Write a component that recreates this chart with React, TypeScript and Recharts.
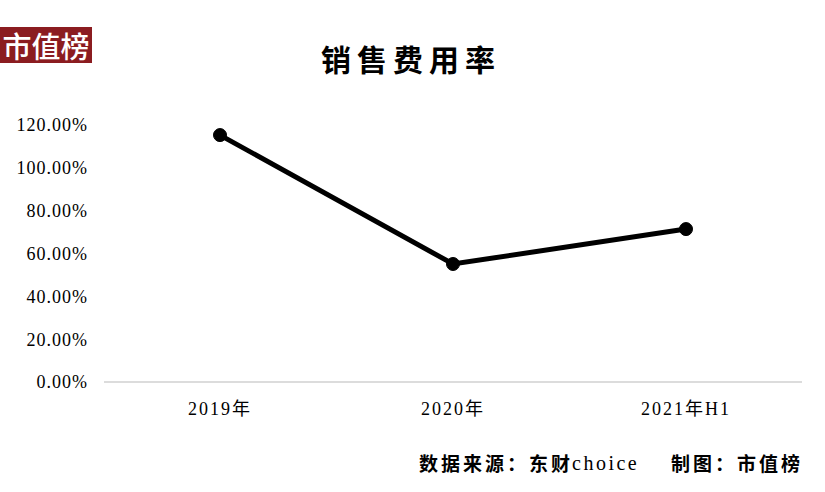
import React from "react";
import { LineChart, Line, XAxis, YAxis } from "recharts";

const categories = ["2019年", "2020年", "2021年H1"];
const salesExpenseRate = [115.3, 55.1, 71.4];
const yTicks = [0, 20, 40, 60, 80, 100, 120];

const data = categories.map((c, i) => ({ name: c, value: salesExpenseRate[i] }));

const serif = "'Liberation Serif', 'Noto Sans CJK SC', serif";
const cjk = "'Noto Sans CJK SC', sans-serif";

export default function App() {
  return (
    <div style={{ position: "absolute", left: 0, top: 0, width: 825, height: 492, background: "#fff", overflow: "hidden" }}>
      <div
        style={{
          position: "absolute",
          left: 0,
          top: 27,
          width: 92,
          height: 36,
          background: "#8B1C20",
          color: "#fff",
          fontFamily: cjk,
          fontSize: 29,
          lineHeight: "36px",
          textAlign: "center",
          fontWeight: 500,
        }}
      >
        市值榜
      </div>
      <div
        style={{
          position: "absolute",
          left: 321,
          top: 37,
          fontFamily: cjk,
          fontWeight: 700,
          fontSize: 30,
          lineHeight: "42px",
          color: "#000",
          letterSpacing: 6,
          whiteSpace: "pre",
        }}
      >
        销售费用率
      </div>
      <LineChart
        width={825}
        height={492}
        data={data}
        margin={{ top: 125, right: 23, bottom: 80, left: 0 }}
      >
        <XAxis
          dataKey="name"
          axisLine={{ stroke: "#d0d0d0", strokeWidth: 1.5 }}
          tickLine={false}
          tickMargin={14}
          height={30}
          padding={{ left: 116, right: 116 }}
          tick={{ fill: "#000", fontSize: 18, fontFamily: serif, letterSpacing: 2 }}
        />
        <YAxis
          width={104}
          domain={[0, 120]}
          ticks={yTicks}
          axisLine={false}
          tickLine={false}
          tickSize={0}
          tickMargin={16}
          tickFormatter={(v: number) => `${v.toFixed(2)}%`}
          tick={{ fill: "#000", fontSize: 18, fontFamily: serif, letterSpacing: 1 }}
        />
        <Line
          dataKey="value"
          stroke="#000"
          strokeWidth={5}
          dot={{ r: 6.5, fill: "#000", stroke: "#000", strokeWidth: 1 }}
          isAnimationActive={false}
        />
      </LineChart>
      <div
        style={{
          position: "absolute",
          left: 419,
          top: 450,
          fontFamily: cjk,
          fontWeight: 700,
          fontSize: 19,
          lineHeight: "26px",
          color: "#000",
          letterSpacing: 3,
          whiteSpace: "pre",
        }}
      >
        数据来源：东<span style={{ letterSpacing: 0 }}>财</span>
      </div>
      <div
        style={{
          position: "absolute",
          left: 572,
          top: 450,
          fontFamily: serif,
          fontSize: 20,
          lineHeight: "26px",
          color: "#000",
          letterSpacing: 2.5,
          whiteSpace: "pre",
        }}
      >
        choice
      </div>
      <div
        style={{
          position: "absolute",
          left: 671,
          top: 450,
          fontFamily: cjk,
          fontWeight: 700,
          fontSize: 19,
          lineHeight: "26px",
          color: "#000",
          letterSpacing: 3,
          whiteSpace: "pre",
        }}
      >
        制图：市值榜
      </div>
    </div>
  );
}
